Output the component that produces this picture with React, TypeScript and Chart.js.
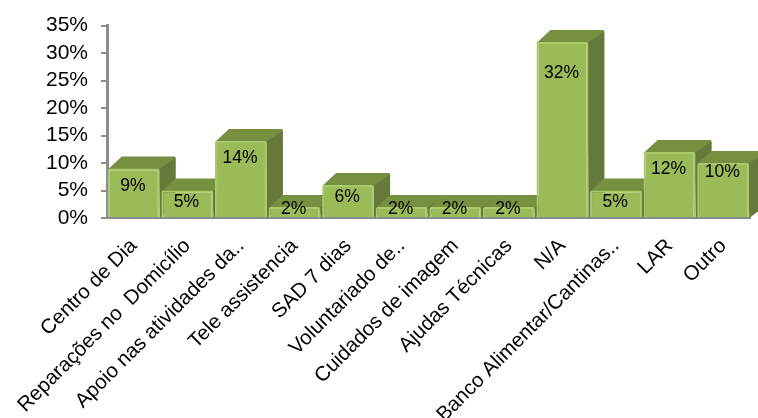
import React, { useEffect, useRef } from "react";
import { Chart, registerables } from "chart.js";

Chart.register(...registerables);

const categories = [
  "Centro de Dia",
  "Reparações no  Domicílio",
  "Apoio nas atividades da..",
  "Tele assistencia",
  "SAD 7 dias",
  "Voluntariado de..",
  "Cuidados de imagem",
  "Ajudas Técnicas",
  "N/A",
  "Banco Alimentar/Cantinas..",
  "LAR",
  "Outro",
];
const shares = [9, 5, 14, 2, 6, 2, 2, 2, 32, 5, 12, 10];
// How far below each column's top its percentage sits, in pixels.
const labelDrop = [18, 12, 17, 2, 12, 2, 2, 2, 31, 12, 17, 9];

const FONT = '"Liberation Sans", Arial, sans-serif';
const DEPTH_X = 16;
const DEPTH_Y = 12;

// Paints the extruded side and top faces behind each column.
const extrusion = {
  id: "extrusion",
  beforeDatasetsDraw(chart: Chart) {
    const { ctx } = chart;
    const bottom = chart.scales.y.bottom;
    ctx.save();
    for (const el of chart.getDatasetMeta(0).data as any[]) {
      const right = el.x + el.width / 2;
      const left = el.x - el.width / 2;
      const top = el.y;
      ctx.fillStyle = "#65793A";
      ctx.beginPath();
      ctx.moveTo(right - 1, top);
      ctx.lineTo(right + DEPTH_X - 2, top - DEPTH_Y);
      ctx.quadraticCurveTo(right + DEPTH_X, top - DEPTH_Y, right + DEPTH_X, top - DEPTH_Y + 2);
      ctx.lineTo(right + DEPTH_X, bottom - DEPTH_Y);
      ctx.lineTo(right, bottom);
      ctx.closePath();
      ctx.fill();
      ctx.fillStyle = "#76903F";
      ctx.beginPath();
      ctx.moveTo(left, top + 1);
      ctx.lineTo(left + DEPTH_X - 2, top - DEPTH_Y);
      ctx.lineTo(right + DEPTH_X - 2, top - DEPTH_Y);
      ctx.quadraticCurveTo(right + DEPTH_X, top - DEPTH_Y, right + DEPTH_X - 1, top - DEPTH_Y + 2);
      ctx.lineTo(right - 1, top + 1);
      ctx.closePath();
      ctx.fill();
    }
    ctx.restore();
  },
  afterDatasetsDraw(chart: Chart) {
    const { ctx } = chart;
    ctx.save();
    ctx.fillStyle = "#000000";
    ctx.font = `17.5px ${FONT}`;
    ctx.textAlign = "center";
    ctx.textBaseline = "middle";
    (chart.getDatasetMeta(0).data as any[]).forEach((el, i) => {
      ctx.fillText(`${shares[i]}%`, el.x - 1, el.y + labelDrop[i]);
    });
    ctx.restore();
  },
};

export default function App() {
  const canvasRef = useRef<HTMLCanvasElement>(null);

  useEffect(() => {
    const chart = new Chart(canvasRef.current!, {
      type: "bar",
      data: {
        labels: categories,
        datasets: [
          {
            data: shares,
            backgroundColor: "#9BBB59",
            borderColor: "#A9C96A",
            borderWidth: 2,
            borderRadius: 2,
            barPercentage: 0.97,
            categoryPercentage: 1,
          },
        ],
      },
      plugins: [extrusion],
      options: {
        responsive: false,
        animation: false,
        layout: { padding: { top: 23, right: 8, left: 0, bottom: 0 } },
        plugins: { legend: { display: false }, tooltip: { enabled: false } },
        scales: {
          x: {
            grid: { display: false, drawTicks: false },
            border: { color: "#8C8C8C", width: 2 },
            ticks: {
              color: "#000000",
              font: { family: FONT, size: 20.5 },
              minRotation: 45,
              maxRotation: 45,
              autoSkip: false,
              padding: 16,
            },
            afterFit: (scale: any) => {
              scale.height = 200;
            },
          },
          y: {
            min: 0,
            max: 35,
            grid: {
              drawOnChartArea: false,
              color: "#8C8C8C",
              lineWidth: 2,
              tickLength: 6,
            },
            border: { color: "#8C8C8C", width: 3 },
            ticks: {
              stepSize: 5,
              autoSkip: false,
              color: "#000000",
              font: { family: FONT, size: 21 },
              padding: 13,
              callback: (v: any) => `${v}%`,
            },
            afterFit: (scale: any) => {
              scale.width = 107;
            },
          },
        },
      },
    });
    return () => chart.destroy();
  }, []);

  return (
    <canvas
      ref={canvasRef}
      width={758}
      height={418}
      style={{ position: "fixed", left: 0, top: 0, background: "#ffffff" }}
    />
  );
}
